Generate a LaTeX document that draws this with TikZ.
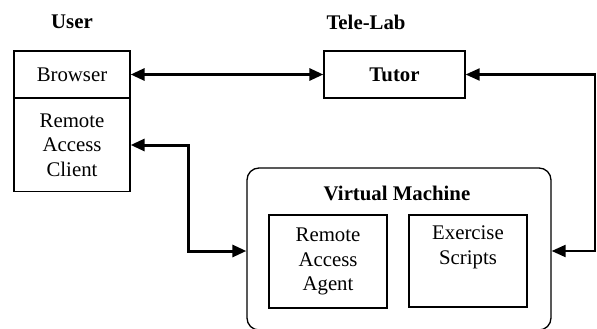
\documentclass[tikz,border=0pt]{standalone}
\usepackage{fontspec}
\setmainfont{Liberation Serif}
\usetikzlibrary{arrows.meta}
\begin{document}
\begin{tikzpicture}[x=1pt,y=-1pt,
  txt/.style={font=\fontsize{20.8}{24.5}\selectfont, align=center, inner sep=0pt},
  btxt/.style={txt, font=\fontsize{20.8}{24.5}\selectfont\bfseries},
  box/.style={txt, draw, line width=1.3pt},
  conn/.style={line width=3pt, {Triangle[length=14pt,width=12pt]}-{Triangle[length=14pt,width=12pt]}},
  connr/.style={line width=2.2pt, {Triangle[length=14pt,width=12pt]}-{Triangle[length=14pt,width=12pt]}}]
\useasboundingbox (0,0) rectangle (597,329);
\node[btxt] (user) at (72,22) {User};
\node[btxt] (telelab) at (366,22) {Tele-Lab};
\node[box, minimum width=116pt, minimum height=47pt] (browser) at (72,74.5) {Browser};
\node[box, minimum width=116pt, minimum height=93pt] (rac) at (72,145) {Remote\\Access\\Client};
\node[box, btxt, minimum width=141pt, minimum height=47pt] (tutor) at (394.5,74.5) {Tutor};
\node[box, rounded corners=12pt, minimum width=304pt, minimum height=162pt] (vm) at (399,249) {};
\node[btxt] (vmtitle) at (397,193) {Virtual Machine};
\node[box, minimum width=118pt, minimum height=93pt] (raa) at (328,261.5) {Remote\\Access\\Agent};
\node[box, minimum width=118pt, minimum height=92pt] (es) at (468,261) {Exercise\\Scripts\\\strut};
\coordinate (lc) at (188,251);
\coordinate (rc) at (595,251);
\draw[conn] (browser.east) -- (tutor.west);
\draw[conn] (rac.east) -| (lc) -- (vm.west |- lc);
\draw[connr] (tutor.east) -| (rc) -- (vm.east |- rc);
\end{tikzpicture}
\end{document}
